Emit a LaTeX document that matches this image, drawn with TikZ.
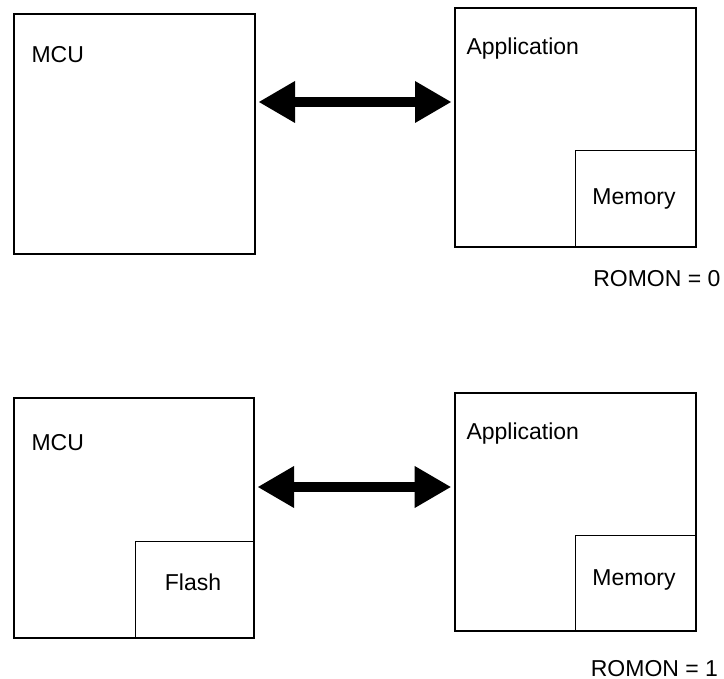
\documentclass[tikz,border=0pt]{standalone}
\usepackage{fontspec}
\setmainfont{Liberation Sans}
\usetikzlibrary{arrows.meta}
\tikzset{
  outerbox/.style={draw, line width=2pt, rectangle, inner sep=0pt, outer sep=0pt},
  innerbox/.style={draw, line width=1pt, rectangle, inner sep=0pt, outer sep=0pt},
  lbl/.style={inner sep=0pt, outer sep=0pt, font=\fontsize{23}{27}\selectfont},
  bigarrow/.style={line width=10pt,
    {Triangle[length=36pt,width=42pt,line width=0pt]}-{Triangle[length=36pt,width=42pt,line width=0pt]},
    shorten <=4pt, shorten >=4pt}
}
\begin{document}
\begin{tikzpicture}[x=1pt,y=-1pt]
\useasboundingbox (0,0) rectangle (724,679);
% top row
\node[outerbox, minimum width=241pt, minimum height=240pt] (mcu1) at (134.5,134.2) {};
\node[outerbox, minimum width=241pt, minimum height=239pt] (app1) at (575.5,127.2) {};
\node[innerbox, minimum width=120.7pt, minimum height=95.7pt] (mem1) at (635.65,198.85) {};
\node[lbl, anchor=base west] (mcu1t) at (31.5,62.7) {MCU};
\node[lbl, anchor=base west] (app1t) at (466.5,54.5) {Application};
\node[lbl, anchor=base] (mem1t) at (634,205) {Memory};
\node[lbl, anchor=base east] (rom0) at (720.5,287) {ROMON = 0};
\coordinate (a1) at (357,102);
\draw[bigarrow] (mcu1.east |- a1) -- (app1.west |- a1);
% bottom row
\node[outerbox, minimum width=240pt, minimum height=240pt] (mcu2) at (134,518.3) {};
\node[innerbox, minimum width=119pt, minimum height=96.6pt] (flash) at (194.5,590) {};
\node[outerbox, minimum width=241.3pt, minimum height=238pt] (app2) at (575.35,511.7) {};
\node[innerbox, minimum width=120.7pt, minimum height=95pt] (mem2) at (635.65,583.2) {};
\node[lbl, anchor=base west] (mcu2t) at (31.5,450) {MCU};
\node[lbl, anchor=base west] (app2t) at (466.5,440) {Application};
\node[lbl, anchor=base] (flasht) at (193,590) {Flash};
\node[lbl, anchor=base] (mem2t) at (634,585) {Memory};
\node[lbl, anchor=base east] (rom1) at (718,676) {ROMON = 1};
\coordinate (a2) at (357,487);
\draw[bigarrow] (mcu2.east |- a2) -- (app2.west |- a2);
\end{tikzpicture}
\end{document}
